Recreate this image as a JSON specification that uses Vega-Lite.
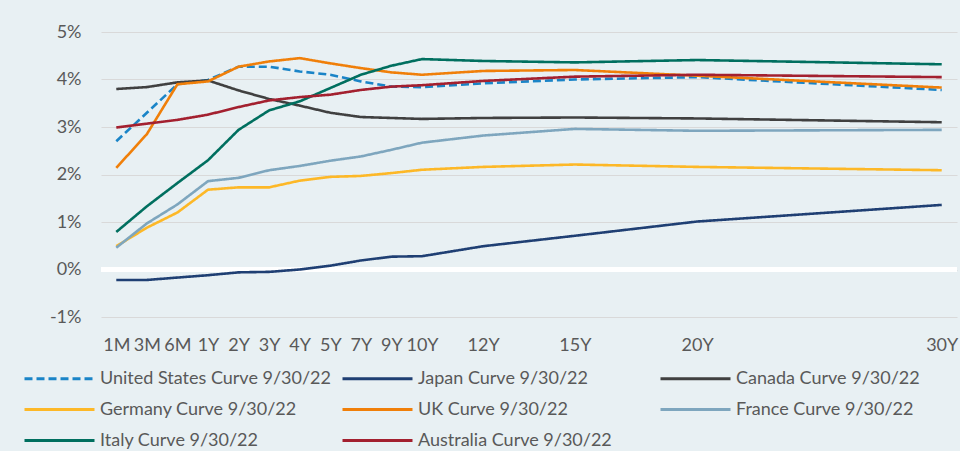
{
  "$schema": "https://vega.github.io/schema/vega-lite/v6.json",
  "width": 856,
  "height": 285,
  "autosize": {"type": "none"},
  "padding": {"left": 101, "top": 32, "right": 3, "bottom": 134},
  "background": "#E8F0F3",
  "config": {
    "view": {"stroke": null},
    "font": "Lato",
    "axis": {
      "labelFont": "Lato",
      "labelFontSize": 18,
      "labelColor": "#595959",
      "ticks": false,
      "domain": false,
      "title": null
    },
    "legend": {
      "orient": "none",
      "direction": "horizontal",
      "legendX": -53,
      "legendY": 335,
      "columns": 3,
      "gridAlign": "all",
      "columnPadding": 5,
      "rowPadding": 10,
      "symbolType": "M-3.5,0H3.5",
      "symbolSize": 400,
      "symbolStrokeWidth": 3,
      "labelFont": "Lato",
      "labelFontSize": 18,
      "labelColor": "#595959",
      "labelOffset": 29,
      "labelLimit": 400,
      "padding": 0
    }
  },
  "data": {
    "values": [
      {"tenor": "1M", "t": 0, "United States Curve 9/30/22": 2.70, "Japan Curve 9/30/22": -0.22, "Canada Curve 9/30/22": 3.80, "Germany Curve 9/30/22": 0.49, "UK Curve 9/30/22": 2.14, "France Curve 9/30/22": 0.46, "Italy Curve 9/30/22": 0.79, "Australia Curve 9/30/22": 2.99},
      {"tenor": "3M", "t": 1, "United States Curve 9/30/22": 3.30, "Japan Curve 9/30/22": -0.22, "Canada Curve 9/30/22": 3.84, "Germany Curve 9/30/22": 0.88, "UK Curve 9/30/22": 2.85, "France Curve 9/30/22": 0.97, "Italy Curve 9/30/22": 1.33, "Australia Curve 9/30/22": 3.07},
      {"tenor": "6M", "t": 2, "United States Curve 9/30/22": 3.90, "Japan Curve 9/30/22": -0.17, "Canada Curve 9/30/22": 3.94, "Germany Curve 9/30/22": 1.20, "UK Curve 9/30/22": 3.90, "France Curve 9/30/22": 1.37, "Italy Curve 9/30/22": 1.82, "Australia Curve 9/30/22": 3.15},
      {"tenor": "1Y", "t": 3, "United States Curve 9/30/22": 3.99, "Japan Curve 9/30/22": -0.12, "Canada Curve 9/30/22": 3.98, "Germany Curve 9/30/22": 1.68, "UK Curve 9/30/22": 3.96, "France Curve 9/30/22": 1.86, "Italy Curve 9/30/22": 2.30, "Australia Curve 9/30/22": 3.26},
      {"tenor": "2Y", "t": 4, "United States Curve 9/30/22": 4.27, "Japan Curve 9/30/22": -0.06, "Canada Curve 9/30/22": 3.77, "Germany Curve 9/30/22": 1.73, "UK Curve 9/30/22": 4.27, "France Curve 9/30/22": 1.93, "Italy Curve 9/30/22": 2.94, "Australia Curve 9/30/22": 3.42},
      {"tenor": "3Y", "t": 5, "United States Curve 9/30/22": 4.27, "Japan Curve 9/30/22": -0.05, "Canada Curve 9/30/22": 3.59, "Germany Curve 9/30/22": 1.73, "UK Curve 9/30/22": 4.38, "France Curve 9/30/22": 2.09, "Italy Curve 9/30/22": 3.35, "Australia Curve 9/30/22": 3.56},
      {"tenor": "4Y", "t": 6, "United States Curve 9/30/22": 4.17, "Japan Curve 9/30/22": 0.00, "Canada Curve 9/30/22": 3.45, "Germany Curve 9/30/22": 1.87, "UK Curve 9/30/22": 4.45, "France Curve 9/30/22": 2.18, "Italy Curve 9/30/22": 3.54, "Australia Curve 9/30/22": 3.63},
      {"tenor": "5Y", "t": 7, "United States Curve 9/30/22": 4.10, "Japan Curve 9/30/22": 0.08, "Canada Curve 9/30/22": 3.30, "Germany Curve 9/30/22": 1.95, "UK Curve 9/30/22": 4.34, "France Curve 9/30/22": 2.29, "Italy Curve 9/30/22": 3.82, "Australia Curve 9/30/22": 3.68},
      {"tenor": "7Y", "t": 8, "United States Curve 9/30/22": 3.96, "Japan Curve 9/30/22": 0.19, "Canada Curve 9/30/22": 3.21, "Germany Curve 9/30/22": 1.97, "UK Curve 9/30/22": 4.24, "France Curve 9/30/22": 2.38, "Italy Curve 9/30/22": 4.10, "Australia Curve 9/30/22": 3.78},
      {"tenor": "9Y", "t": 9, "United States Curve 9/30/22": 3.85, "Japan Curve 9/30/22": 0.27, "Canada Curve 9/30/22": 3.19, "Germany Curve 9/30/22": 2.03, "UK Curve 9/30/22": 4.15, "France Curve 9/30/22": 2.52, "Italy Curve 9/30/22": 4.29, "Australia Curve 9/30/22": 3.85},
      {"tenor": "10Y", "t": 10, "United States Curve 9/30/22": 3.84, "Japan Curve 9/30/22": 0.28, "Canada Curve 9/30/22": 3.17, "Germany Curve 9/30/22": 2.10, "UK Curve 9/30/22": 4.10, "France Curve 9/30/22": 2.67, "Italy Curve 9/30/22": 4.43, "Australia Curve 9/30/22": 3.88},
      {"tenor": "12Y", "t": 12, "United States Curve 9/30/22": 3.92, "Japan Curve 9/30/22": 0.49, "Canada Curve 9/30/22": 3.19, "Germany Curve 9/30/22": 2.16, "UK Curve 9/30/22": 4.18, "France Curve 9/30/22": 2.82, "Italy Curve 9/30/22": 4.39, "Australia Curve 9/30/22": 3.97},
      {"tenor": "15Y", "t": 15, "United States Curve 9/30/22": 4.00, "Japan Curve 9/30/22": 0.71, "Canada Curve 9/30/22": 3.20, "Germany Curve 9/30/22": 2.21, "UK Curve 9/30/22": 4.20, "France Curve 9/30/22": 2.96, "Italy Curve 9/30/22": 4.36, "Australia Curve 9/30/22": 4.06},
      {"tenor": "20Y", "t": 19, "United States Curve 9/30/22": 4.05, "Japan Curve 9/30/22": 1.01, "Canada Curve 9/30/22": 3.18, "Germany Curve 9/30/22": 2.16, "UK Curve 9/30/22": 4.08, "France Curve 9/30/22": 2.92, "Italy Curve 9/30/22": 4.41, "Australia Curve 9/30/22": 4.10},
      {"tenor": "30Y", "t": 27, "United States Curve 9/30/22": 3.78, "Japan Curve 9/30/22": 1.36, "Canada Curve 9/30/22": 3.10, "Germany Curve 9/30/22": 2.09, "UK Curve 9/30/22": 3.83, "France Curve 9/30/22": 2.94, "Italy Curve 9/30/22": 4.32, "Australia Curve 9/30/22": 4.05}
    ]
  },
  "transform": [
    {
      "fold": [
        "United States Curve 9/30/22",
        "Japan Curve 9/30/22",
        "Canada Curve 9/30/22",
        "Germany Curve 9/30/22",
        "UK Curve 9/30/22",
        "France Curve 9/30/22",
        "Italy Curve 9/30/22",
        "Australia Curve 9/30/22"
      ],
      "as": ["series", "rate"]
    }
  ],
  "layer": [
    {
      "mark": {"type": "rule", "color": "#FFFFFF", "strokeWidth": 4},
      "encoding": {"y": {"datum": 0, "type": "quantitative"}}
    },
    {
      "mark": {"type": "line", "strokeWidth": 2.6, "interpolate": "linear"},
      "encoding": {
        "x": {
          "field": "t",
          "type": "quantitative",
          "scale": {"domain": [-0.5, 27.5], "nice": false, "zero": false},
          "axis": {
            "values": [0, 1, 2, 3, 4, 5, 6, 7, 8, 9, 10, 12, 15, 19, 27],
            "labelExpr": "['1M','3M','6M','1Y','2Y','3Y','4Y','5Y','7Y','9Y','10Y','','12Y','','','15Y','','','','20Y','','','','','','','','30Y'][datum.value]",
            "grid": false,
            "labelPadding": 19,
            "labelOverlap": false,
            "labelFlush": false
          }
        },
        "y": {
          "field": "rate",
          "type": "quantitative",
          "scale": {"domain": [-1, 5], "nice": false, "zero": false},
          "axis": {
            "values": [-1, 0, 1, 2, 3, 4, 5],
            "labelExpr": "datum.value + '%'",
            "grid": true,
            "gridColor": "#D9D9D9",
            "gridWidth": 1,
            "labelPadding": 20
          }
        },
        "color": {
          "field": "series",
          "type": "nominal",
          "title": null,
          "scale": {
            "domain": [
              "United States Curve 9/30/22",
              "Japan Curve 9/30/22",
              "Canada Curve 9/30/22",
              "Germany Curve 9/30/22",
              "UK Curve 9/30/22",
              "France Curve 9/30/22",
              "Italy Curve 9/30/22",
              "Australia Curve 9/30/22"
            ],
            "range": ["#1A84C7", "#1F3F73", "#404040", "#FDB827", "#F07F09", "#7EA6BE", "#006F5F", "#A3202F"]
          }
        },
        "strokeDash": {
          "field": "series",
          "type": "nominal",
          "title": null,
          "scale": {
            "domain": [
              "United States Curve 9/30/22",
              "Japan Curve 9/30/22",
              "Canada Curve 9/30/22",
              "Germany Curve 9/30/22",
              "UK Curve 9/30/22",
              "France Curve 9/30/22",
              "Italy Curve 9/30/22",
              "Australia Curve 9/30/22"
            ],
            "range": [[8, 4], [1, 0], [1, 0], [1, 0], [1, 0], [1, 0], [1, 0], [1, 0]]
          }
        }
      }
    }
  ]
}
